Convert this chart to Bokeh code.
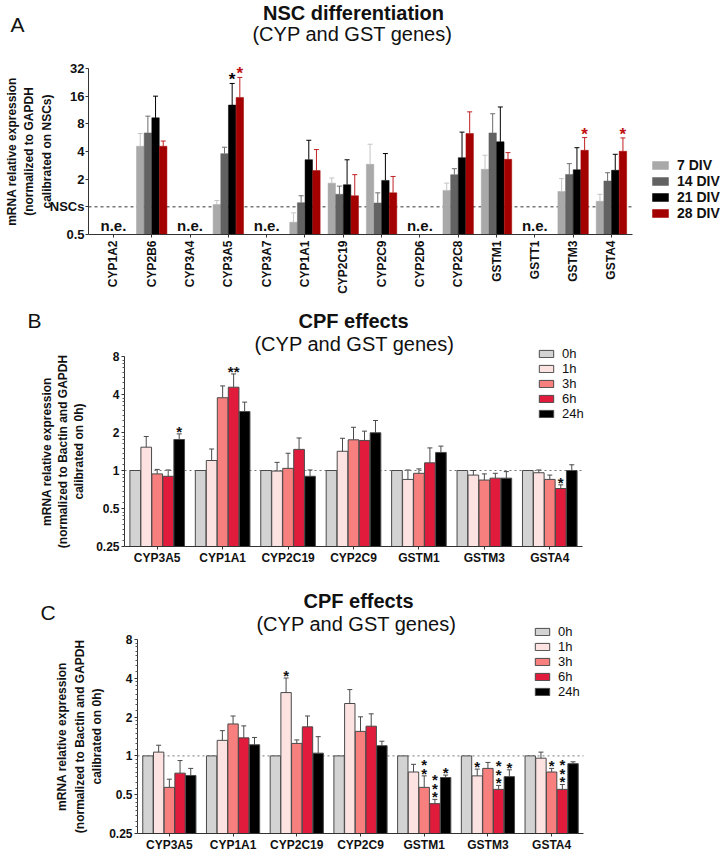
import math
from bokeh.plotting import figure
from bokeh.models import (Range1d, FixedTicker, CustomJSTickFormatter, Label,
                          Legend, LegendItem)
from bokeh.layouts import column
from bokeh.embed import file_html
from bokeh.resources import INLINE
from bokeh.core.properties import value

FONT = "Liberation Sans"

# ---------------- Panel A data ----------------
genes_a = ["CYP1A2", "CYP2B6", "CYP3A4", "CYP3A5", "CYP3A7", "CYP1A1", "CYP2C19",
           "CYP2C9", "CYP2D6", "CYP2C8", "GSTM1", "GSTT1", "GSTM3", "GSTA4"]
series_a = ["7 DIV", "14 DIV", "21 DIV", "28 DIV"]
div7 = [None, 4.56, None, 1.06, None, 0.68, 1.81, 2.90, None, 1.51, 2.56, None, 1.47, 1.15]
div7_hi = [None, 6.27, None, 1.17, None, 0.86, 2.06, 4.80, None, 1.81, 3.64, None, 2.03, 1.37]
div14 = [None, 6.37, None, 3.79, None, 1.11, 1.37, 1.10, None, 2.24, 6.37, None, 2.25, 1.91]
div14_hi = [None, 9.70, None, 4.45, None, 1.32, 1.68, 1.42, None, 2.60, 10.3, None, 2.95, 2.35]
div21 = [None, 9.30, None, 12.8, None, 3.26, 1.74, 1.94, None, 3.43, 5.10, None, 2.53, 2.50]
div21_hi = [None, 16.0, None, 22.0, None, 5.30, 3.25, 3.80, None, 6.50, 12.2, None, 4.40, 3.73]
div28 = [None, 4.56, None, 15.5, None, 2.48, 1.32, 1.42, None, 6.27, 3.29, None, 4.12, 4.02]
div28_hi = [None, 5.20, None, 25.6, None, 4.20, 2.24, 2.14, None, 10.8, 3.89, None, 5.67, 5.62]
stars_a = [("CYP3A5", "21 DIV", 1), ("CYP3A5", "28 DIV", 1),
           ("GSTM3", "28 DIV", 1), ("GSTA4", "28 DIV", 1)]
ticks_a = [0.5, 1, 2, 4, 8, 16, 32]

# ---------------- Panel B data ----------------
genes_bc = ["CYP3A5", "CYP1A1", "CYP2C19", "CYP2C9", "GSTM1", "GSTM3", "GSTA4"]
series_bc = ["0h", "1h", "3h", "6h", "24h"]
b_0h = [1, 1, 1, 1, 1, 1, 1]
b_1h = [1.53, 1.20, 0.99, 1.42, 0.85, 0.92, 0.96]
b_1h_hi = [1.86, 1.48, 1.16, 1.80, 1.01, 1.00, 1.01]
b_3h = [0.94, 3.77, 1.04, 1.75, 0.95, 0.84, 0.85]
b_3h_hi = [1.02, 4.68, 1.37, 2.20, 1.03, 0.94, 0.92]
b_6h = [0.90, 4.57, 1.47, 1.73, 1.15, 0.87, 0.72]
b_6h_hi = [1.01, 5.82, 1.81, 2.05, 1.51, 0.95, 0.77]
b_24h = [1.76, 2.93, 0.90, 1.99, 1.39, 0.87, 1.00]
b_24h_hi = [1.95, 3.48, 1.01, 2.49, 1.56, 0.98, 1.11]
stars_b = [("CYP3A5", "24h", 1), ("CYP1A1", "6h", 2), ("GSTA4", "6h", 1)]

# ---------------- Panel C data ----------------
c_0h = [1, 1, 1, 1, 1, 1, 1]
c_1h = [1.07, 1.32, 3.10, 2.55, 0.75, 0.70, 0.96]
c_1h_hi = [1.21, 1.57, 4.02, 3.27, 0.86, 0.79, 1.07]
c_3h = [0.57, 1.77, 1.25, 1.55, 0.57, 0.80, 0.75]
c_3h_hi = [0.66, 2.04, 1.33, 2.01, 0.70, 0.89, 0.80]
c_6h = [0.735, 1.38, 1.68, 1.70, 0.426, 0.55, 0.55]
c_6h_hi = [0.92, 1.71, 2.04, 2.12, 0.46, 0.59, 0.60]
c_24h = [0.705, 1.22, 1.05, 1.20, 0.68, 0.69, 0.87]
c_24h_hi = [0.80, 1.39, 1.41, 1.30, 0.71, 0.78, 0.90]
stars_c = [("CYP2C19", "1h", 1), ("GSTM1", "3h", 2), ("GSTM1", "6h", 3), ("GSTM1", "24h", 1),
           ("GSTM3", "1h", 1), ("GSTM3", "6h", 3), ("GSTM3", "24h", 1),
           ("GSTA4", "3h", 1), ("GSTA4", "6h", 3)]
ticks_bc = [0.25, 0.5, 1, 2, 4, 8]

colors_a = ["#a9a9a9", "#626262", "#000000", "#a30000"]
err_a = ["#c4c4c4", "#6e6e6e", "#000000", "#c02020"]
colors_bc = ["#d3d3d3", "#fde2e2", "#f7807f", "#e01b3c", "#000000"]

W = 724


def make_fig(canvas_h, ax_left, ax_len, xb, ax_top, ay_len, yb):
    """Frame covers the whole canvas; axes are placed inside at fixed locations."""
    ppu = ax_len / (xb[1] - xb[0])
    xr = Range1d(xb[0] - ax_left / ppu, xb[0] + (W - ax_left) / ppu)
    ppd = ay_len / math.log2(yb[1] / yb[0])
    bottom_px = canvas_h - ax_top - ay_len
    yr = Range1d(yb[0] / 2 ** (bottom_px / ppd), yb[1] * 2 ** (ax_top / ppd))
    p = figure(frame_width=W, frame_height=canvas_h, min_border=0, x_range=xr, y_range=yr,
               y_axis_type="log", output_backend="svg", toolbar_location=None)
    p.grid.visible = False
    p.outline_line_color = None
    p.background_fill_color = "white"
    p.border_fill_color = "white"
    p.xaxis.fixed_location = yb[0]
    p.yaxis.fixed_location = xb[0]
    p.xaxis.bounds = xb
    p.yaxis.bounds = yb
    for ax in (p.xaxis[0], p.yaxis[0]):
        ax.axis_line_color = "#333333"
        ax.major_tick_line_color = "#333333"
        ax.major_tick_in = 0
        ax.major_tick_out = 3
        ax.minor_tick_line_color = None
        ax.major_label_text_font = FONT
        ax.major_label_text_font_style = "bold"
        ax.major_label_text_color = "#111111"
        ax.axis_label_text_font = FONT
        ax.axis_label_text_font_style = "bold"
        ax.axis_label_text_color = "#111111"
    return p


def draw_bars(p, vals_list, hi_list, colors, width, bottom, bar_line, err_colors):
    n = len(vals_list)
    rends, offs = [], []
    for k in range(n):
        off = (k - (n - 1) / 2) * width
        offs.append(off)
        vals = vals_list[k]
        xs = [i + off for i, v in enumerate(vals) if v is not None]
        tops = [v for v in vals if v is not None]
        r = p.vbar(x=xs, top=tops, bottom=bottom, width=width * 0.97, fill_color=colors[k],
                   line_color=bar_line if bar_line else colors[k],
                   line_width=1 if bar_line else 0.5)
        rends.append(r)
        his = hi_list[k]
        if his is not None:
            ex = [i + off for i, v in enumerate(vals) if v is not None]
            ey0 = [v for v in vals if v is not None]
            ey1 = [h for v, h in zip(vals, his) if v is not None]
            p.segment(x0=ex, y0=ey0, x1=ex, y1=ey1, line_color=err_colors[k], line_width=1)
            p.scatter(x=ex, y=ey1, marker="dash", size=5, line_color=err_colors[k], line_width=1)
    return rends, offs


def draw_stars(p, genes, series, offs, hi_list, stars, colors, size, stacked):
    for g, s, cnt in stars:
        gi = genes.index(g)
        si = series.index(s)
        txt = "\n".join(["*"] * cnt) if stacked else "*" * cnt
        p.text(x=[gi + offs[si]], y=[hi_list[si][gi]], text=[txt], text_align="center",
               text_baseline="bottom", y_offset=6, text_font=value(FONT),
               text_font_size=size, text_font_style="bold", text_color=colors[si],
               text_line_height=0.5)


def ref_line(p, xb, dash, color):
    p.segment(x0=[xb[0]], y0=[1], x1=[xb[1]], y1=[1], line_color=color, line_dash=dash,
              line_width=1, level="underlay")


def add_label(p, x, y, text, size, style="normal", align="center"):
    p.add_layout(Label(x=x, y=y, x_units="screen", y_units="screen", text=text,
                       text_font=FONT, text_font_size=size, text_font_style=style,
                       text_align=align, text_baseline="middle", text_color="#111111"))


def add_legend(p, names, rends, loc, size, style, gw, gh, row):
    leg = Legend(items=[LegendItem(label=n, renderers=[r]) for n, r in zip(names, rends)],
                 location=loc, orientation="vertical", glyph_width=gw, glyph_height=gh,
                 label_height=row, spacing=0, padding=0, margin=0, label_standoff=7,
                 border_line_color=None, background_fill_alpha=0,
                 label_text_font=FONT, label_text_font_size=size,
                 label_text_font_style=style, label_text_color="#111111",
                 label_text_line_height=0.9)
    p.add_layout(leg)


# ================= Panel A =================
HA = 294
xb_a = (-0.65, 13.55)
pa = make_fig(HA, 88, 544, xb_a, 68, 166, (ticks_a[0], ticks_a[-1]))
ref_line(pa, xb_a, "3 3", "#333333")
rends_a, offs_a = draw_bars(pa, [div7, div14, div21, div28],
                            [div7_hi, div14_hi, div21_hi, div28_hi],
                            colors_a, 0.2, ticks_a[0], None, err_a)
ne_x = [i for i, v in enumerate(div7) if v is None]
pa.text(x=ne_x, y=[ticks_a[0]] * len(ne_x), text=["n.e."] * len(ne_x), text_align="center",
        text_baseline="bottom", y_offset=-1, text_font=value(FONT), text_font_size="15px",
        text_font_style="bold", text_color="#111111")
draw_stars(pa, genes_a, series_a, offs_a, [div7_hi, div14_hi, div21_hi, div28_hi], stars_a,
           ["#000000", "#000000", "#000000", "#c01010"], "17px", False)
pa.xaxis.ticker = FixedTicker(ticks=list(range(len(genes_a))))
pa.xaxis.major_label_overrides = {i: g for i, g in enumerate(genes_a)}
pa.xaxis.major_label_orientation = math.pi / 2
pa.xaxis.major_label_text_font_size = "12px"
pa.xaxis.major_label_standoff = 3
pa.yaxis.ticker = FixedTicker(ticks=ticks_a)
pa.yaxis.formatter = CustomJSTickFormatter(code="return tick == 1 ? 'NSCs' : String(tick);")
pa.yaxis.major_label_text_font_size = "13px"
pa.yaxis.major_label_standoff = 1
pa.yaxis.axis_label = "mRNA relative expression\n(normalized to GAPDH\ncalibrated on NSCs)"
pa.yaxis.axis_label_text_font_size = "12px"
pa.yaxis.axis_label_standoff = -7
pa.yaxis.axis_label_text_line_height = 1.25
add_label(pa, 353, HA - 12, "NSC differentiation", "20px", "bold")
add_label(pa, 352, HA - 33, "(CYP and GST genes)", "20px")
add_label(pa, 10, HA - 24, "A", "21px", align="left")
add_legend(pa, series_a, rends_a, (650, HA - 221), "14px", "bold", 20, 10, 13)

# ================= Panel B / C =================
minor_bc = [b * (1 + k / 8) for b in ticks_bc[:-1] for k in range(1, 8)]
xb_bc = (-0.5, 6.5)


def make_bc(h, ax_left, ax_len, ax_top, ay_len, vals, his, stars, labels_pos, letter,
            legend_pos, lab_standoff, lab_lh):
    p = make_fig(h, ax_left, ax_len, xb_bc, ax_top, ay_len, (ticks_bc[0], ticks_bc[-1]))
    ref_line(p, xb_bc, "2 3", "#777777")
    rends, offs = draw_bars(p, vals, his, colors_bc, 0.168, ticks_bc[0], "#4a4a4a",
                            ["#4a4a4a"] * 5)
    draw_stars(p, genes_bc, series_bc, offs, his, stars, ["#111111"] * 5, "15px",
               letter == "C")
    p.xaxis.ticker = FixedTicker(ticks=list(range(len(genes_bc))))
    p.xaxis.major_label_overrides = {i: g for i, g in enumerate(genes_bc)}
    p.xaxis.major_label_text_font_size = "12px"
    p.xaxis.major_label_standoff = 1
    p.yaxis.ticker = FixedTicker(ticks=ticks_bc, minor_ticks=minor_bc)
    p.yaxis.formatter = CustomJSTickFormatter(code="return String(tick);")
    p.yaxis.major_label_text_font_size = "12px"
    p.yaxis.major_label_standoff = 2
    p.yaxis.minor_tick_in = 0
    p.yaxis.minor_tick_out = 2
    p.yaxis.minor_tick_line_color = "#555555"
    p.yaxis.axis_label = ("mRNA relative expression\n(normalized to Bactin and GAPDH\n"
                          "calibrated on 0h)")
    p.yaxis.axis_label_text_font_size = "12px"
    p.yaxis.axis_label_standoff = lab_standoff
    p.yaxis.axis_label_text_line_height = lab_lh
    (tx, ty), (sx, sy), (lx, ly) = labels_pos
    add_label(p, tx, h - ty, "CPF effects", "20px", "bold")
    add_label(p, sx, h - sy, "(CYP and GST genes)", "20px")
    add_label(p, lx, h - ly, letter, "21px", align="left")
    add_legend(p, series_bc, rends, (legend_pos[0], h - legend_pos[1]), "13px", "normal",
               18, 9, 12)
    return p


# B: canvas spans page y 294..568
pb = make_bc(274, 124, 458, 62, 190,
             [b_0h, b_1h, b_3h, b_6h, b_24h],
             [None, b_1h_hi, b_3h_hi, b_6h_hi, b_24h_hi], stars_b,
             ((353, 26), (354, 49), (27, 26)), "B", (537, 127), 7, 1.15)

# C: canvas spans page y 568..851
pc = make_bc(283, 137, 446, 71, 194,
             [c_0h, c_1h, c_3h, c_6h, c_24h],
             [None, c_1h_hi, c_3h_hi, c_6h_hi, c_24h_hi], stars_c,
             ((358, 32), (356, 55), (40, 44)), "C", (533, 131), 2, 1.25)

layout = column(pa, pb, pc, spacing=0)
open("out.html", "w").write(file_html(layout, INLINE))
